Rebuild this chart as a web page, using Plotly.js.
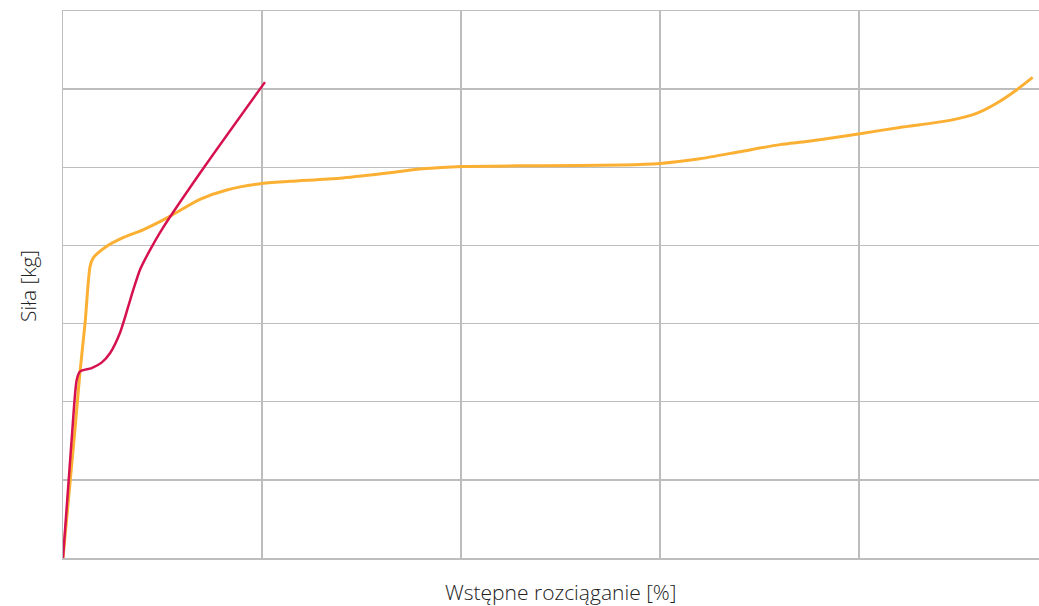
<!DOCTYPE html>
<html>
<head>
<meta charset="utf-8">
<script src="https://cdn.plot.ly/plotly-3.0.1.min.js"></script>
<style>html,body{margin:0;padding:0;background:#fff;overflow:hidden}</style>
</head>
<body>
<div id="chart" style="width:1039px;height:606px"></div>
<script>
// Red series
const redX = [0, 0.047, 0.069, 0.085, 0.144, 0.194, 0.236, 0.286, 0.328, 0.353, 0.387, 0.437, 0.496, 0.709, 1.015];
const redY = [0, 1.64, 2.28, 2.385, 2.43, 2.50, 2.62, 2.88, 3.22, 3.43, 3.69, 3.94, 4.20, 5.00, 6.09];
// Orange series
const orangeX = [0, 0.060, 0.085, 0.111, 0.136, 0.152, 0.220, 0.302, 0.402, 0.521, 0.688, 0.823, 0.990, 1.141, 1.392, 1.643, 1.809, 2.004, 2.397, 2.814, 3.0, 3.201, 3.402, 3.603, 3.737, 3.905, 4.005, 4.206, 4.457, 4.591, 4.692, 4.792, 4.873];
const orangeY = [0, 1.64, 2.37, 3.01, 3.73, 3.84, 3.99, 4.10, 4.20, 4.35, 4.59, 4.71, 4.79, 4.82, 4.86, 4.93, 4.98, 5.01, 5.02, 5.03, 5.05, 5.11, 5.20, 5.29, 5.33, 5.39, 5.43, 5.51, 5.60, 5.69, 5.82, 5.99, 6.15];
const xTitle = "Wstępne rozciąganie [%]";
const yTitle = "Siła [kg]";

const traces = [
  {x: orangeX, y: orangeY, mode: 'lines', line: {color: '#fbb034', width: 3, shape: 'spline', smoothing: 0.7}, hoverinfo: 'skip'},
  {x: redX, y: redY, mode: 'lines', line: {color: '#d6114f', width: 2.5, shape: 'spline', smoothing: 0.7}, hoverinfo: 'skip'}
];

const titleFont = {size: 21, color: '#222', family: '"Open Sans", Lato, sans-serif', weight: 300};

const layout = {
  width: 1039, height: 606,
  margin: {l: 63, r: 0, t: 11, b: 48, pad: 0},
  showlegend: false,
  paper_bgcolor: '#fff', plot_bgcolor: '#fff',
  font: {family: '"Open Sans", sans-serif', color: '#333'},
  xaxis: {range: [0, 4.905], dtick: 1, tick0: 0, showgrid: true, gridcolor: '#bdbdbd', gridwidth: 1.5,
          zeroline: false, showline: true, mirror: true, linecolor: '#bdbdbd', linewidth: 1.5,
          showticklabels: false, ticks: '', fixedrange: true},
  yaxis: {range: [0, 7], dtick: 1, tick0: 0, showgrid: true, gridcolor: '#bdbdbd', gridwidth: 1.5,
          zeroline: false, showline: true, mirror: false, linecolor: '#bdbdbd', linewidth: 1.5,
          showticklabels: false, ticks: '', fixedrange: true},
  annotations: [
    {text: xTitle, xref: 'paper', yref: 'paper', x: (561 - 63) / 976, y: -(592 - 558) / 547, xanchor: 'center', yanchor: 'middle', showarrow: false, font: titleFont},
    {text: yTitle, xref: 'paper', yref: 'paper', x: -(63 - 28) / 976, y: (558 - 286) / 547, xanchor: 'center', yanchor: 'middle', textangle: -90, showarrow: false, font: titleFont}
  ]
};

Plotly.newPlot('chart', traces, layout, {displayModeBar: false, staticPlot: true});
</script>
</body>
</html>
